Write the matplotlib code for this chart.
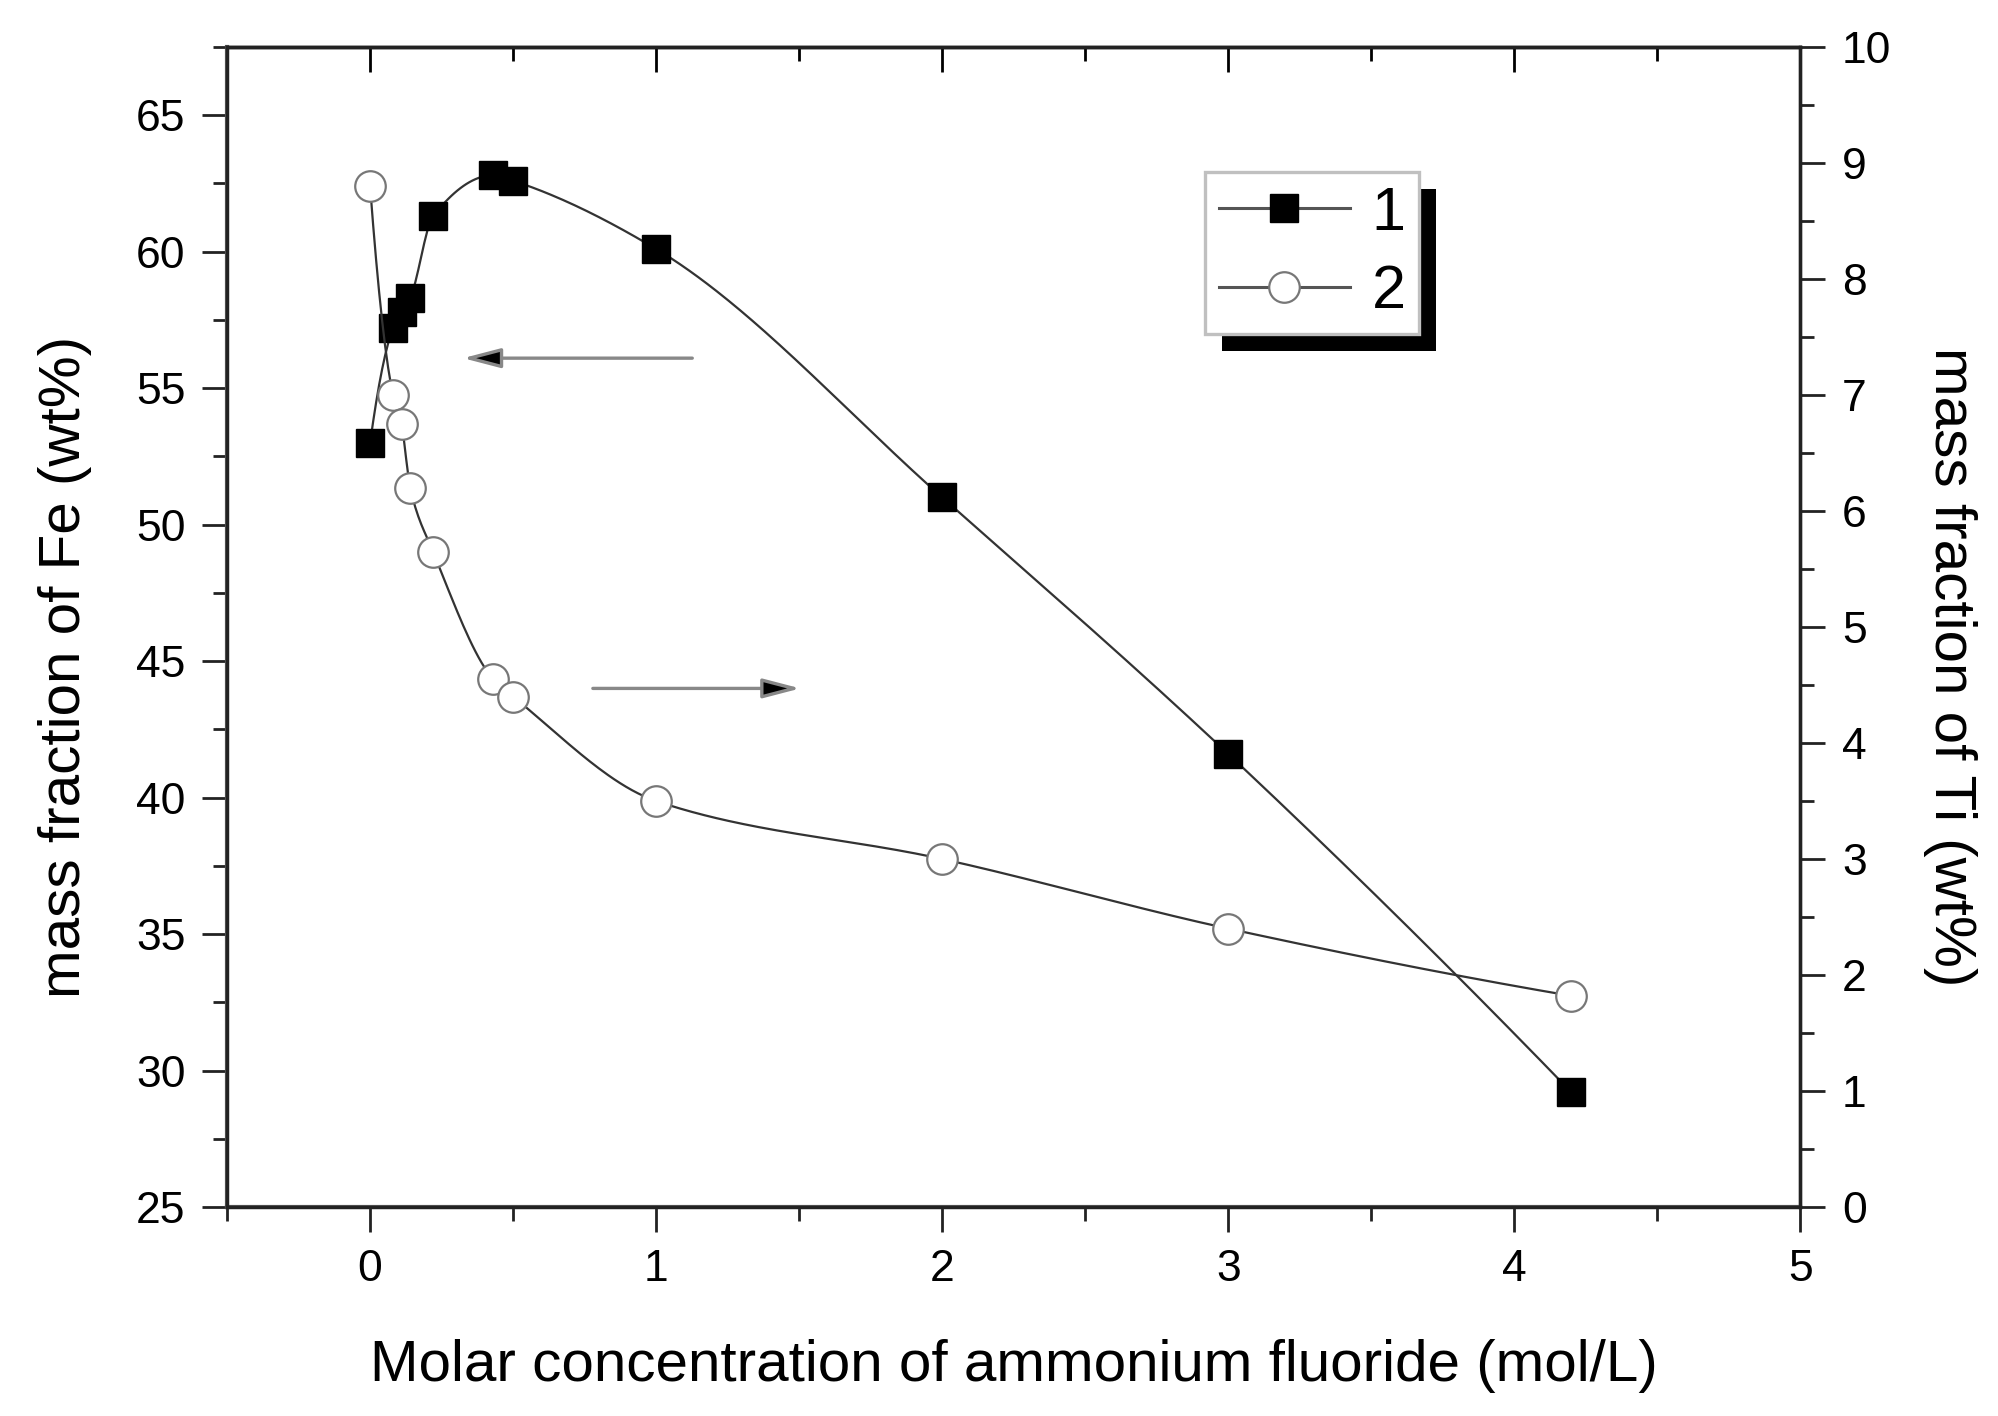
import numpy as np
import matplotlib
matplotlib.use("Agg")
import matplotlib.pyplot as plt
from matplotlib.patches import Rectangle
from matplotlib.transforms import IdentityTransform
from matplotlib.ticker import MultipleLocator

plt.rcParams['font.family'] = ['Liberation Sans', 'DejaVu Sans']

# data
conc = [0, 0.08, 0.11, 0.14, 0.22, 0.43, 0.5, 1, 2, 3, 4.2]        # mol/L
fe = [53.0, 57.2, 57.8, 58.3, 61.3, 62.8, 62.6, 60.1, 51.0, 41.6, 29.2]  # wt%
ti = [8.8, 7.0, 6.75, 6.2, 5.65, 4.55, 4.4, 3.5, 3.0, 2.4, 1.82]        # wt%
labels = ["1", "2"]


def smooth(x, y, n=400):
    # monotone cubic (pchip) connector through the points
    x = np.asarray(x, float); y = np.asarray(y, float)
    h = np.diff(x); d = np.diff(y) / h
    m = np.zeros_like(y)
    for k in range(1, len(x) - 1):
        if d[k-1] * d[k] > 0:
            w1 = 2*h[k] + h[k-1]; w2 = h[k] + 2*h[k-1]
            m[k] = (w1 + w2) / (w1/d[k-1] + w2/d[k])
    def end(h0, h1, d0, d1):
        v = ((2*h0 + h1)*d0 - h0*d1) / (h0 + h1)
        if np.sign(v) != np.sign(d0):
            v = 0
        elif np.sign(d0) != np.sign(d1) and abs(v) > abs(3*d0):
            v = 3*d0
        return v
    m[0] = end(h[0], h[1], d[0], d[1])
    m[-1] = end(h[-1], h[-2], d[-1], d[-2])
    xs = np.linspace(x[0], x[-1], n)
    i = np.clip(np.searchsorted(x, xs) - 1, 0, len(x) - 2)
    t = (xs - x[i]) / h[i]
    ys = ((2*t**3 - 3*t**2 + 1)*y[i] + (t**3 - 2*t**2 + t)*h[i]*m[i]
          + (-2*t**3 + 3*t**2)*y[i+1] + (t**3 - t**2)*h[i]*m[i+1])
    return xs, ys


fig = plt.figure(figsize=(19.99, 14.16), dpi=100)
ax = fig.add_axes([0.1136, 0.1476, 0.787, 0.8192])
ax2 = ax.twinx()

line_c = '#333333'
xs, ys = smooth(conc, fe)
ax.plot(xs, ys, color=line_c, lw=1.6, zorder=2)
ax.plot(conc, fe, ls='none', marker='s', ms=20, mfc='black', mec='black', zorder=3)
xs, ys = smooth(conc, ti)
ax2.plot(xs, ys, color=line_c, lw=1.6, zorder=2)
ax2.plot(conc, ti, ls='none', marker='o', ms=22, mfc='white', mec='#777777', mew=1.6, zorder=3)

ax.set_xlim(-0.5, 5)
ax.set_ylim(25, 67.5)
ax2.set_ylim(0, 10)

ax.xaxis.set_major_locator(MultipleLocator(1))
ax.xaxis.set_minor_locator(MultipleLocator(0.5))
ax.yaxis.set_major_locator(MultipleLocator(5))
ax.yaxis.set_minor_locator(MultipleLocator(2.5))
ax2.yaxis.set_major_locator(MultipleLocator(1))
ax2.yaxis.set_minor_locator(MultipleLocator(0.5))

for a in (ax, ax2):
    a.tick_params(which='major', length=18, width=2, labelsize=32, pad=12, color='#222222')
    a.tick_params(which='minor', length=10, width=2, color='#222222')
    for s in a.spines.values():
        s.set_linewidth(2.4)
        s.set_color('#222222')
ax.spines['left'].set_color('#555555')
ax.spines['bottom'].set_color('#555555')
ax.spines['left'].set_linewidth(3)
ax.spines['bottom'].set_linewidth(3)
ax.tick_params(axis='both', which='both', direction='out')
ax2.tick_params(axis='y', which='both', direction='out')

top = ax.secondary_xaxis('top')
top.xaxis.set_major_locator(MultipleLocator(1))
top.xaxis.set_minor_locator(MultipleLocator(0.5))
top.tick_params(which='major', direction='in', length=18, width=2, labeltop=False)
top.tick_params(which='minor', direction='in', length=10, width=2)
top.spines['top'].set_linewidth(2.4)

ax.set_xlabel("Molar concentration of ammonium fluoride (mol/L)", fontsize=42)
ax.set_ylabel("mass fraction of Fe (wt%)", fontsize=42)
ax2.set_ylabel("mass fraction of Ti (wt%)", fontsize=42, rotation=270, va='bottom')
ax.xaxis.set_label_coords(0.5, -0.114)
ax.yaxis.set_label_coords(-0.086, 0.466)
ax2.yaxis.set_label_coords(1.078, 0.466)

# direction arrows
arrow = dict(arrowstyle='-|>,head_length=2.3,head_width=0.6',
             facecolor='black', edgecolor='#888888', lw=2.4)
ax.annotate('', xy=(0.315, 56.1), xytext=(1.136, 56.1), arrowprops=arrow)
ax.annotate('', xy=(1.514, 44.0), xytext=(0.769, 44.0), arrowprops=arrow)

# legend
h1, = ax.plot([], [], color='#555555', lw=2.2, marker='s', ms=20, mfc='black', mec='black')
h2, = ax.plot([], [], color='#555555', lw=2.2, marker='o', ms=22, mfc='white', mec='#777777', mew=1.6)
leg = ax2.legend([h1, h2], labels, loc='upper left', bbox_to_anchor=(0.6217, 0.8922),
                 fontsize=44, frameon=True, fancybox=False, framealpha=1,
                 edgecolor='#c0c0c0', handlelength=2.15, handletextpad=0.35,
                 labelspacing=0.35, borderpad=0.22, borderaxespad=0)
leg.get_frame().set_linewidth(2.4)
leg.set_zorder(6)

fig.canvas.draw()
bb = leg.get_window_extent()
shadow = Rectangle((bb.x0 + 17, bb.y0 - 17), bb.width, bb.height,
                   transform=IdentityTransform(), facecolor='black',
                   edgecolor='none', zorder=5, clip_on=False)
ax2.add_artist(shadow)

fig.savefig("out.png", dpi=100, facecolor='white')
